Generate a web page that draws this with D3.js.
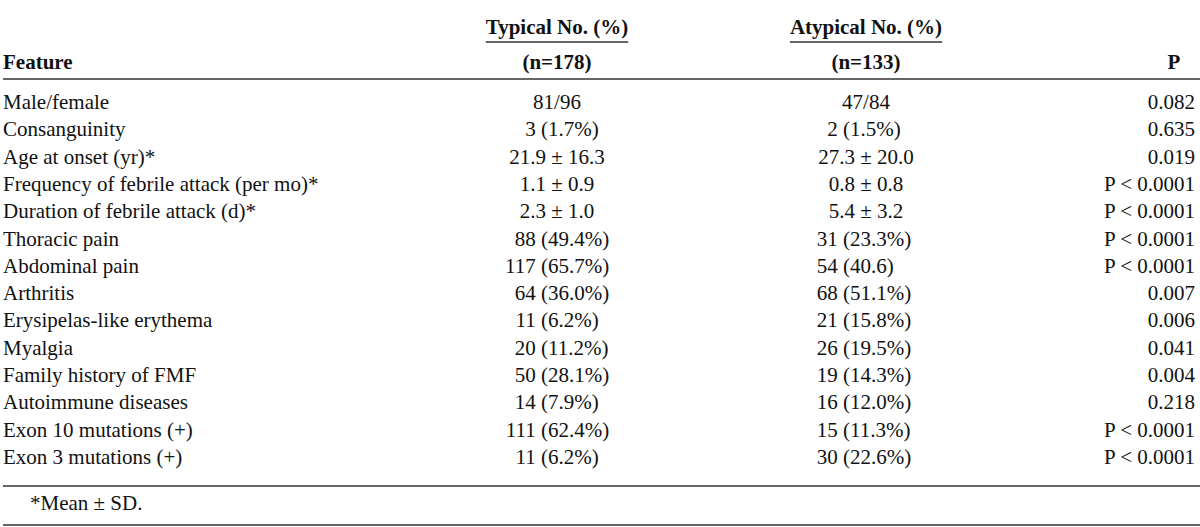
<!DOCTYPE html>
<html lang="en">
<head>
    <meta charset="UTF-8">
    <title>Typical vs Atypical FMF</title>
    <style>
        body { margin: 0; background: #fff; }
        svg text { font-family: "Liberation Serif", "Times New Roman", serif; font-size: 21px; fill: #111; }
        .bold { font-weight: bold; }
    </style>
</head>
<body>
    <div id="chart"></div>
    <script src="https://d3js.org/d3.v7.min.js"></script>
    <script>
        // table data
        const features = [
            "Male/female", "Consanguinity", "Age at onset (yr)*",
            "Frequency of febrile attack (per mo)*", "Duration of febrile attack (d)*",
            "Thoracic pain", "Abdominal pain", "Arthritis", "Erysipelas-like erythema",
            "Myalgia", "Family history of FMF", "Autoimmune diseases",
            "Exon 10 mutations (+)", "Exon 3 mutations (+)"
        ];
        const typicalVals = [
            "81/96", "3 (1.7%)", "21.9 ± 16.3", "1.1 ± 0.9", "2.3 ± 1.0",
            "88 (49.4%)", "117 (65.7%)", "64 (36.0%)", "11 (6.2%)", "20 (11.2%)",
            "50 (28.1%)", "14 (7.9%)", "111 (62.4%)", "11 (6.2%)"
        ];
        const atypicalVals = [
            "47/84", "2 (1.5%)", "27.3 ± 20.0", "0.8 ± 0.8", "5.4 ± 3.2",
            "31 (23.3%)", "54 (40.6)", "68 (51.1%)", "21 (15.8%)", "26 (19.5%)",
            "19 (14.3%)", "16 (12.0%)", "15 (11.3%)", "30 (22.6%)"
        ];
        const pVals = [
            "0.082", "0.635", "0.019", "P < 0.0001", "P < 0.0001", "P < 0.0001",
            "P < 0.0001", "0.007", "0.006", "0.041", "0.004", "0.218",
            "P < 0.0001", "P < 0.0001"
        ];
        const headers = ["Typical No. (%)", "Atypical No. (%)"];
        const groupN = ["(n=178)", "(n=133)"];
        const footnote = "*Mean ± SD.";

        const width = 1200, height = 527;
        const svg = d3.select("#chart").append("svg")
            .attr("width", width)
            .attr("height", height);

        // row baselines
        const y = d3.scalePoint()
            .domain(features)
            .range([109, 109 + 27.3 * (features.length - 1)]);

        const left = 3;
        const cols = [
            { center: 557, paren: 541, vals: typicalVals },
            { center: 866, paren: 843, vals: atypicalVals }
        ];
        const pRight = 1195;
        const lineColor = "#333";

        // header
        cols.forEach((c, i) => {
            const t = svg.append("text").attr("class", "bold")
                .attr("x", c.center).attr("y", 34)
                .attr("text-anchor", "middle")
                .text(headers[i]);
            const w = t.node().getComputedTextLength();
            svg.append("line")
                .attr("x1", c.center - w / 2).attr("x2", c.center + w / 2)
                .attr("y1", 42).attr("y2", 42)
                .attr("stroke", lineColor).attr("stroke-width", 1.3);
            svg.append("text").attr("class", "bold")
                .attr("x", c.center).attr("y", 69)
                .attr("text-anchor", "middle")
                .text(groupN[i]);
        });
        svg.append("text").attr("class", "bold")
            .attr("x", left).attr("y", 69).text("Feature");
        svg.append("text").attr("class", "bold")
            .attr("x", 1174).attr("y", 69)
            .attr("text-anchor", "middle").text("P");

        svg.append("line")
            .attr("x1", left).attr("x2", width)
            .attr("y1", 79).attr("y2", 79)
            .attr("stroke", lineColor).attr("stroke-width", 1.5);

        // body rows
        svg.selectAll(".feat").data(features).join("text")
            .attr("class", "feat")
            .attr("x", left).attr("y", d => y(d))
            .text(d => d);

        cols.forEach(c => {
            c.vals.forEach((v, i) => {
                const yy = y(features[i]);
                const m = v.match(/^(\d+) (\(.*\))$/);
                if (m) {
                    // align counts on the opening parenthesis
                    svg.append("text")
                        .attr("x", c.paren - 5.25).attr("y", yy)
                        .attr("text-anchor", "end").text(m[1]);
                    svg.append("text")
                        .attr("x", c.paren).attr("y", yy).text(m[2]);
                } else {
                    svg.append("text")
                        .attr("x", c.center).attr("y", yy)
                        .attr("text-anchor", "middle").text(v);
                }
            });
        });

        svg.selectAll(".pval").data(pVals).join("text")
            .attr("class", "pval")
            .attr("x", pRight).attr("y", (d, i) => y(features[i]))
            .attr("text-anchor", "end")
            .text(d => d);

        // bottom rules and footnote
        const lastY = y(features[features.length - 1]);
        svg.append("line")
            .attr("x1", left).attr("x2", width)
            .attr("y1", lastY + 22).attr("y2", lastY + 22)
            .attr("stroke", lineColor).attr("stroke-width", 1.5);
        svg.append("text")
            .attr("x", 30).attr("y", lastY + 46)
            .text(footnote);
        svg.append("line")
            .attr("x1", left).attr("x2", width)
            .attr("y1", lastY + 61).attr("y2", lastY + 61)
            .attr("stroke", lineColor).attr("stroke-width", 1.5);
    </script>
</body>
</html>
